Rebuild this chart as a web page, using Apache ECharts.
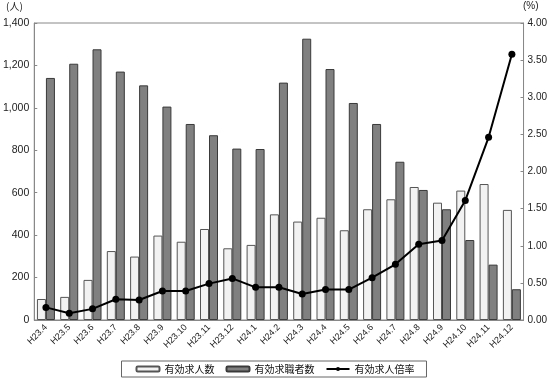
<!DOCTYPE html>
<html>
<head>
<meta charset="utf-8">
<script src="https://cdn.jsdelivr.net/npm/echarts@6/dist/echarts.min.js"></script>
<style>
  html, body { margin: 0; padding: 0; background: #fff; }
  #chart { width: 550px; height: 378px; }
</style>
</head>
<body>
<div id="chart"></div>
<script>
// 月（平成）
const months = ['H23.4', 'H23.5', 'H23.6', 'H23.7', 'H23.8', 'H23.9', 'H23.10', 'H23.11', 'H23.12',
    'H24.1', 'H24.2', 'H24.3', 'H24.4', 'H24.5', 'H24.6', 'H24.7', 'H24.8', 'H24.9', 'H24.10', 'H24.11', 'H24.12'];

// 有効求人数（人）
const kyujin = [99, 109, 189, 325, 299, 398, 369, 429, 338, 354, 498, 464, 482, 423, 522, 569, 627, 553, 610, 641, 519];

// 有効求職者数（人）
const kyushoku = [1141, 1208, 1276, 1171, 1106, 1006, 924, 871, 808, 806, 1119, 1326, 1183, 1023, 924, 746, 613, 522, 377, 261, 145];

// 有効求人倍率（%）
const bairitsu = [0.17, 0.09, 0.15, 0.28, 0.27, 0.39, 0.39, 0.49, 0.56, 0.44, 0.44, 0.35, 0.41, 0.41, 0.57, 0.75, 1.02, 1.07, 1.61, 2.46, 3.58];

const font = '"Liberation Sans", Arial, sans-serif';
const jpFont = '"Noto Sans CJK JP", sans-serif';

const chart = echarts.init(document.getElementById('chart'));

chart.setOption({
    animation: false,
    grid: {
        left: 34, right: 26, top: 23, bottom: 58,
        show: true,
        borderColor: '#888',
        borderWidth: 1
    },
    graphic: [
        { type: 'text', left: 6, top: 1, style: { text: '(人)', font: '10px ' + jpFont, fill: '#222' } },
        { type: 'text', left: 523, top: 1, style: { text: '(%)', font: '10px ' + font, fill: '#222' } }
    ],
    legend: {
        bottom: 1,
        left: 'center',
        padding: [3, 12, 3, 14],
        borderColor: '#666',
        borderWidth: 1,
        itemWidth: 23,
        itemHeight: 5,
        itemGap: 11,
        textStyle: { fontFamily: jpFont, fontSize: 10, color: '#111' },
        data: ['有効求人数', '有効求職者数', '有効求人倍率']
    },
    xAxis: {
        type: 'category',
        data: months,
        axisLine: { lineStyle: { color: '#888' } },
        axisTick: { inside: true, length: 3, lineStyle: { color: '#888' } },
        axisLabel: { rotate: 45, fontFamily: font, fontSize: 9, color: '#222', margin: 6, interval: 0 }
    },
    yAxis: [
        {
            type: 'value',
            min: 0, max: 1400, interval: 200,
            splitLine: { show: false },
            axisLine: { show: true, lineStyle: { color: '#888' } },
            axisTick: { show: true, inside: true, length: 3, lineStyle: { color: '#888' } },
            axisLabel: {
                fontFamily: font, fontSize: 10.5, color: '#222', margin: 5,
                formatter: v => v.toLocaleString('en-US')
            }
        },
        {
            type: 'value',
            min: 0, max: 4, interval: 0.5,
            splitLine: { show: false },
            axisLine: { show: true, lineStyle: { color: '#888' } },
            axisTick: { show: true, inside: true, length: 3, lineStyle: { color: '#888' } },
            axisLabel: {
                fontFamily: font, fontSize: 10, color: '#222', margin: 4,
                formatter: v => v.toFixed(2)
            }
        }
    ],
    series: [
        {
            name: '有効求人数',
            type: 'bar',
            data: kyujin,
            barWidth: 9,
            barGap: '0%',
            itemStyle: { color: '#f2f2f2', borderColor: '#555', borderWidth: 1 }
        },
        {
            name: '有効求職者数',
            type: 'bar',
            data: kyushoku,
            barWidth: 9,
            itemStyle: { color: '#808080', borderColor: '#3a3a3a', borderWidth: 1 }
        },
        {
            name: '有効求人倍率',
            type: 'line',
            yAxisIndex: 1,
            data: bairitsu,
            symbol: 'circle',
            symbolSize: 7,
            lineStyle: { color: '#000', width: 2 },
            itemStyle: { color: '#000' }
        }
    ]
});
</script>
</body>
</html>
